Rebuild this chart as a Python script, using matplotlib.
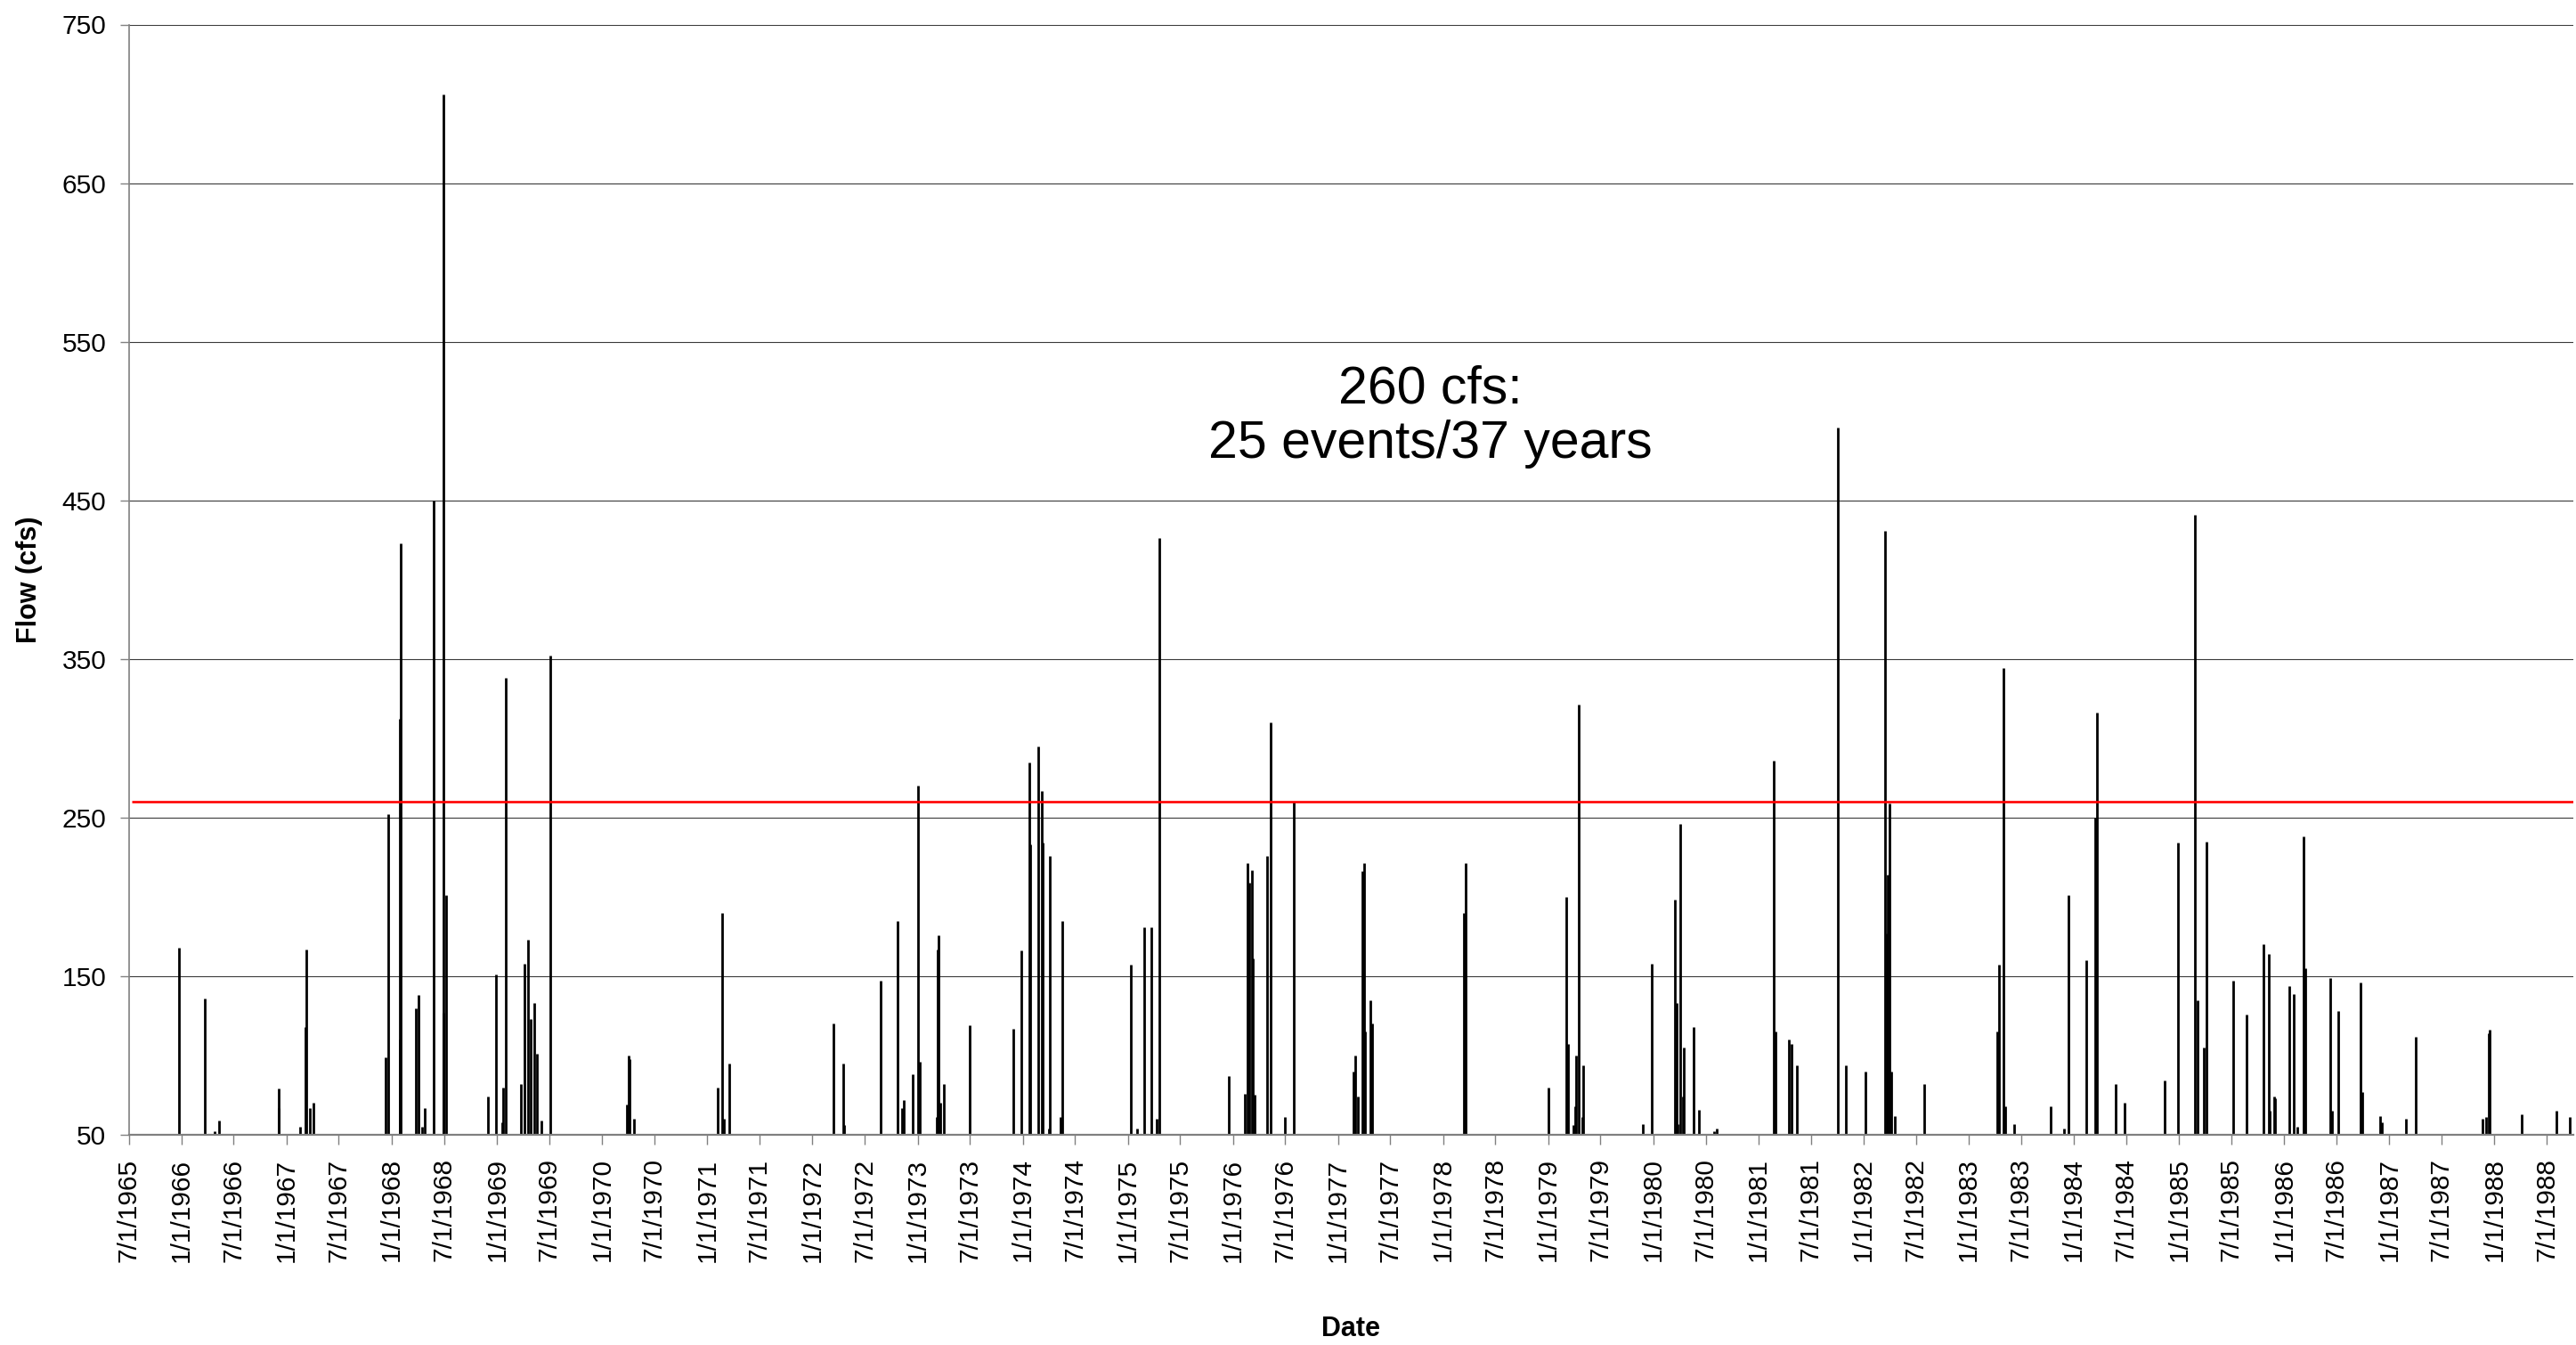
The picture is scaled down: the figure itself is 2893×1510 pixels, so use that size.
import matplotlib
matplotlib.use("Agg")
import matplotlib.pyplot as plt
import pandas as pd

plt.rcParams["font.family"] = ["Liberation Sans", "DejaVu Sans"]

# Daily peak flows above the 50 cfs axis floor (date, cfs)
event_dates = [
    "1965-12-24", "1966-03-21", "1966-04-26", "1966-05-11", "1966-12-03", "1966-12-05",
    "1967-02-15", "1967-03-07", "1967-03-09", "1967-03-22", "1967-04-03",
    "1967-12-10", "1967-12-21", "1968-01-28", "1968-01-29", "1968-02-01",
    "1968-03-24", "1968-04-03", "1968-04-14", "1968-04-24", "1968-05-26",
    "1968-06-27", "1968-06-29", "1968-07-09", "1968-11-30", "1968-12-28",
    "1969-01-19", "1969-01-23", "1969-01-30", "1969-03-25", "1969-04-05",
    "1969-04-19", "1969-04-28", "1969-05-09", "1969-05-19", "1969-06-03",
    "1969-07-05", "1970-03-28", "1970-04-02", "1970-04-06", "1970-04-22",
    "1971-02-05", "1971-02-23", "1971-02-28", "1971-03-19",
    "1972-03-15", "1972-04-18", "1972-04-22", "1972-08-24", "1972-10-23",
    "1972-11-09", "1972-11-14", "1972-12-14", "1973-01-03", "1973-01-07",
    "1973-03-09", "1973-03-11", "1973-03-16", "1973-03-21", "1973-04-01",
    "1973-06-30", "1973-11-29", "1973-12-28", "1974-01-25", "1974-01-28",
    "1974-02-24", "1974-03-07", "1974-03-11", "1974-04-02", "1974-04-06",
    "1974-05-13", "1974-05-18", "1975-01-12", "1975-02-01", "1975-02-26",
    "1975-03-25", "1975-04-12", "1975-04-22", "1975-12-19", "1976-02-13",
    "1976-02-20", "1976-02-27", "1976-03-06", "1976-03-10", "1976-03-17",
    "1976-04-28", "1976-05-10", "1976-06-29", "1976-08-01",
    "1977-02-23", "1977-03-01", "1977-03-09", "1977-03-27", "1977-03-31",
    "1977-04-05", "1977-04-24", "1977-04-28", "1978-03-13", "1978-03-21",
    "1979-01-03", "1979-03-05", "1979-03-09", "1979-03-29", "1979-04-03",
    "1979-04-08", "1979-04-16", "1979-04-28", "1979-05-03", "1979-11-26",
    "1979-12-25", "1980-03-17", "1980-03-22", "1980-03-26", "1980-04-04",
    "1980-04-12", "1980-04-16", "1980-05-19", "1980-06-06", "1980-07-29",
    "1980-08-07", "1981-02-22", "1981-02-27", "1981-04-15", "1981-04-26",
    "1981-05-14", "1981-10-04", "1981-10-31", "1982-01-07", "1982-03-17",
    "1982-03-22", "1982-03-26", "1982-04-01", "1982-04-06", "1982-04-20",
    "1982-07-30", "1983-04-11", "1983-04-15", "1983-05-01", "1983-05-06",
    "1983-06-06", "1983-10-12", "1983-11-27", "1983-12-12", "1984-02-13",
    "1984-03-14", "1984-03-20", "1984-05-24", "1984-06-24", "1984-11-10",
    "1984-12-29", "1985-02-24", "1985-03-05", "1985-03-27", "1985-04-05",
    "1985-07-08", "1985-08-23", "1985-10-19", "1985-11-09", "1985-11-12",
    "1985-11-26", "1985-12-01", "1986-01-17", "1986-02-03", "1986-02-15",
    "1986-03-09", "1986-03-15", "1986-06-09", "1986-06-15", "1986-07-08",
    "1986-09-22", "1986-09-28", "1986-12-01", "1986-12-06", "1987-02-27",
    "1987-04-02", "1987-11-22", "1987-12-02", "1987-12-11", "1987-12-16",
    "1988-04-04", "1988-08-02", "1988-09-18",
]
peak_flow = [
    168, 136, 52, 59, 67, 79,
    55, 118, 167, 67, 70,
    99, 252, 110, 312, 423,
    130, 138, 55, 67, 450,
    706, 127, 201, 74, 151,
    58, 80, 338, 82, 158,
    173, 123, 133, 101, 59,
    352, 69, 100, 98, 60,
    80, 190, 60, 95,
    120, 95, 56, 147, 185,
    67, 72, 88, 270, 96,
    61, 167, 176, 70, 82,
    119, 117, 166, 285, 233,
    295, 267, 234, 54, 226,
    61, 185, 157, 54, 181,
    181, 60, 426, 87, 76,
    221, 209, 217, 161, 75,
    226, 310, 61, 260,
    90, 100, 74, 216, 221,
    115, 135, 120, 190, 221,
    80, 200, 107, 56, 68,
    100, 321, 61, 94, 57,
    158, 198, 133, 57, 246,
    74, 105, 118, 66, 52,
    54, 286, 115, 110, 107,
    94, 496, 94, 90, 431,
    177, 214, 259, 90, 62,
    82, 115, 157, 344, 68,
    57, 68, 54, 201, 160,
    250, 316, 82, 70, 84,
    234, 441, 135, 105, 235,
    147, 126, 170, 164, 65,
    74, 73, 144, 139, 55,
    238, 155, 149, 65, 128,
    146, 77, 62, 58, 60,
    112, 60, 61, 114, 116,
    63, 65, 61,
]

threshold_cfs = 260
threshold_note = "260 cfs:\n25 events/37 years"

x_start = pd.Timestamp("1965-07-01")
x_end = pd.Timestamp("1988-10-01")
y_ticks = [50, 150, 250, 350, 450, 550, 650, 750]
tick_dates = pd.date_range("1965-07-01", "1988-07-01", freq="6MS")
tick_labels = [f"{d.month}/{d.day}/{d.year}" for d in tick_dates]

W, H = 2893, 1510
fig = plt.figure(figsize=(W / 100, H / 100), dpi=100)
ax = fig.add_axes([144.5 / W, 1 - 1274 / H, (2890 - 144.5) / W, (1274 - 27.5) / H])

ax.set_xlim(x_start, x_end)
ax.set_ylim(50, 750)

# horizontal gridlines
for yv in y_ticks[1:]:
    ax.axhline(yv, color="#3a3a3a", lw=0.8, zorder=1)

# flow spikes
ax.vlines(pd.to_datetime(event_dates), 50, peak_flow, color="black", lw=2.0, zorder=3)

# threshold line
ax.hlines(threshold_cfs, x_start + pd.Timedelta(days=11), x_end, color="#ff0000", lw=1.9, zorder=4)

ax.text(0.5323, 0.647, threshold_note, transform=ax.transAxes, ha="center", va="center",
        fontsize=42.5, linespacing=1.15, color="black")

ax.set_yticks(y_ticks)
ax.set_yticklabels([str(v) for v in y_ticks])
ax.set_xticks(tick_dates)
ax.set_xticklabels(tick_labels, rotation=90)

ax.tick_params(axis="y", direction="out", length=7.2, width=1.0, color="#808080",
               labelsize=21.5, pad=11)
ax.tick_params(axis="x", direction="out", length=8, width=1.0, color="#808080",
               labelsize=21.5, pad=11)

for side in ("top", "right"):
    ax.spines[side].set_visible(False)
ax.spines["left"].set_color("#808080")
ax.spines["left"].set_linewidth(1.2)
ax.spines["bottom"].set_color("#808080")
ax.spines["bottom"].set_linewidth(1.6)
ax.spines["bottom"].set_zorder(5)

fig.text(33 / W, 1 - 651 / H, "Flow (cfs)", rotation=90, ha="center", va="center",
         fontsize=22, fontweight="bold")
fig.text(1517 / W, 1 - 1492 / H, "Date", ha="center", va="center",
         fontsize=22, fontweight="bold")

fig.savefig("out.png", dpi=100, facecolor="white")
